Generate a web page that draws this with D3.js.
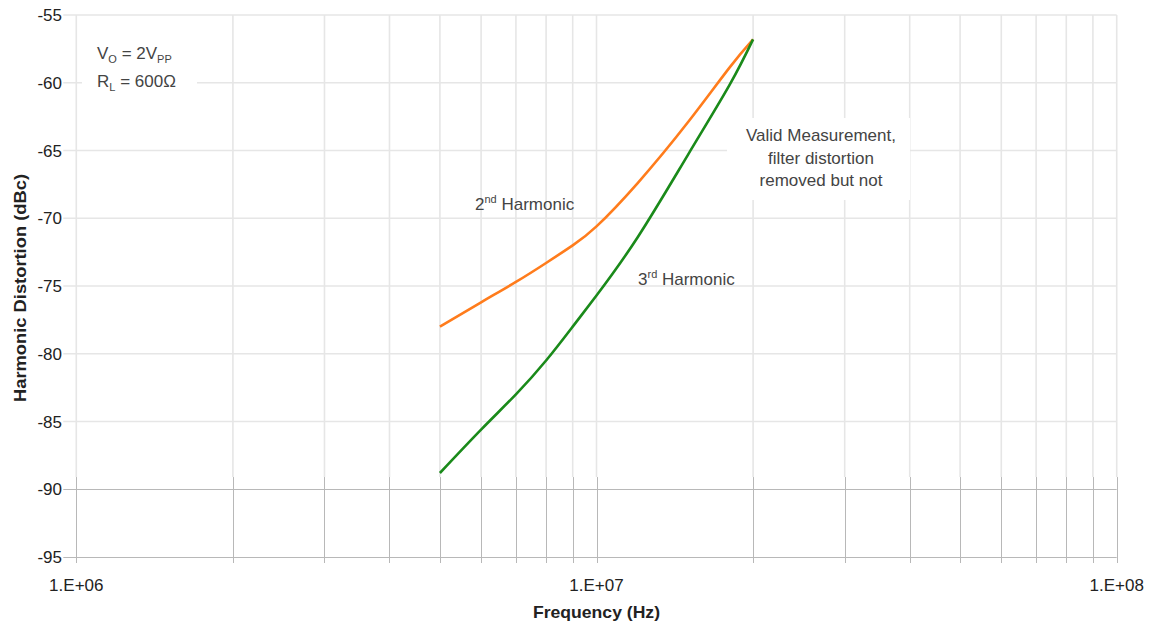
<!DOCTYPE html>
<html><head><meta charset="utf-8">
<script src="https://cdn.jsdelivr.net/npm/d3@7"></script>
<style>body{margin:0;background:#fff}svg{display:block;font-family:"Liberation Sans",Arial,sans-serif}</style>
</head><body><svg id="c" width="1151" height="624"></svg>
<script>
const freq = [5e6, 6e6, 7e6, 8e6, 9e6, 1e7, 1.2e7, 1.5e7, 1.8e7, 2e7];
const harm2 = [-78.0, -76.2, -74.7, -73.3, -72.0, -70.6, -67.4, -62.9, -58.9, -56.8];
const harm3 = [-88.8, -85.6, -83.0, -80.5, -78.0, -75.7, -71.4, -65.3, -60.2, -56.8];
const yTicks = [-55, -60, -65, -70, -75, -80, -85, -90, -95];
const xTicks = [1e6, 1e7, 1e8];
const xTickLabels = ["1.E+06", "1.E+07", "1.E+08"];

const svg = d3.select("#c");
const L = 76.3, R = 1116.7, T = 15, B = 557;
const x = d3.scaleLog().domain([1e6, 1e8]).range([L, R]);
const y = d3.scaleLinear().domain([-95, -55]).range([B, T]);
const split = -89.1;

const minor = [];
for (let k = 6; k <= 7; k++) for (let m = 1; m <= 9; m++) minor.push(m * Math.pow(10, k));
minor.push(1e8);

const g = svg.append("g");
g.selectAll(".vl").data(minor).join("line")
  .attr("x1", d => x(d)).attr("x2", d => x(d))
  .attr("y1", y(-55)).attr("y2", y(split))
  .attr("stroke", "#e6e6e6").attr("stroke-width", 1.6);
g.selectAll(".hl").data(yTicks.filter(v => v > split)).join("line")
  .attr("x1", L - 13).attr("x2", R)
  .attr("y1", d => y(d)).attr("y2", d => y(d))
  .attr("stroke", "#e6e6e6").attr("stroke-width", 1.6);
g.selectAll(".vd").data(minor).join("line")
  .attr("x1", d => Math.round(x(d)) + 0.5).attr("x2", d => Math.round(x(d)) + 0.5)
  .attr("y1", y(split)).attr("y2", B + 6)
  .attr("stroke", "#b8b8b8").attr("stroke-width", 1);
g.selectAll(".hd").data(yTicks.filter(v => v < split)).join("line")
  .attr("x1", L - 13).attr("x2", R)
  .attr("y1", d => Math.round(y(d)) + 0.5).attr("y2", d => Math.round(y(d)) + 0.5)
  .attr("stroke", "#b8b8b8").attr("stroke-width", 1);

svg.selectAll(".yt").data(yTicks).join("text")
  .attr("x", 62).attr("y", d => y(d) + 6)
  .attr("text-anchor", "end").attr("font-size", 17).attr("fill", "#222")
  .text(d => d);
svg.selectAll(".xt").data(xTicks).join("text")
  .attr("x", d => x(d)).attr("y", 591)
  .attr("text-anchor", "middle").attr("font-size", 17).attr("fill", "#222")
  .text((d, i) => xTickLabels[i]);

svg.append("text").attr("x", (L + R) / 2).attr("y", 618).attr("text-anchor", "middle")
  .attr("font-size", 17).attr("font-weight", "bold").attr("fill", "#222")
  .attr("textLength", 127).attr("lengthAdjust", "spacingAndGlyphs").text("Frequency (Hz)");
svg.append("text").attr("transform", `translate(26,${(T + B) / 2 + 2}) rotate(-90)`)
  .attr("text-anchor", "middle").attr("font-size", 17).attr("font-weight", "bold").attr("fill", "#222")
  .attr("textLength", 228).attr("lengthAdjust", "spacingAndGlyphs")
  .text("Harmonic Distortion (dBc)");

svg.append("rect").attr("x", 82).attr("y", 36).attr("width", 115).attr("height", 62).attr("fill", "#fff");
svg.append("rect").attr("x", 727).attr("y", 118).attr("width", 183).attr("height", 82).attr("fill", "#fff");

const line = d3.line().x(d => x(d[0])).y(d => y(d[1])).curve(d3.curveNatural);
svg.append("path").datum(freq.map((f, i) => [f, harm2[i]])).attr("d", line)
  .attr("fill", "none").attr("stroke", "#ff7c1c").attr("stroke-width", 2.6);
svg.append("path").datum(freq.map((f, i) => [f, harm3[i]])).attr("d", line)
  .attr("fill", "none").attr("stroke", "#1a8a1a").attr("stroke-width", 2.6);

const tc = "#444", fs = 17;
const t1 = svg.append("text").attr("x", 97).attr("y", 59).attr("font-size", fs).attr("fill", tc);
t1.append("tspan").text("V");
t1.append("tspan").attr("font-size", 11).attr("dy", 4).text("O");
t1.append("tspan").attr("dy", -4).text(" = 2V");
t1.append("tspan").attr("font-size", 11).attr("dy", 4).text("PP");
const t2 = svg.append("text").attr("x", 97).attr("y", 87).attr("font-size", fs).attr("fill", tc);
t2.append("tspan").text("R");
t2.append("tspan").attr("font-size", 11).attr("dy", 4).text("L");
t2.append("tspan").attr("dy", -4).text(" = 600Ω");

const t3 = svg.append("text").attr("x", 475).attr("y", 210).attr("font-size", fs).attr("fill", tc);
t3.append("tspan").text("2");
t3.append("tspan").attr("font-size", 11).attr("dy", -7).text("nd");
t3.append("tspan").attr("dy", 7).text(" Harmonic");
const t4 = svg.append("text").attr("x", 638).attr("y", 285).attr("font-size", fs).attr("fill", tc);
t4.append("tspan").text("3");
t4.append("tspan").attr("font-size", 11).attr("dy", -7).text("rd");
t4.append("tspan").attr("dy", 7).text(" Harmonic");

["Valid Measurement,", "filter distortion", "removed but not"].forEach((s, i) => {
  svg.append("text").attr("x", 821).attr("y", 141 + i * 22.5).attr("text-anchor", "middle")
    .attr("font-size", fs).attr("fill", tc).text(s);
});
</script></body></html>
